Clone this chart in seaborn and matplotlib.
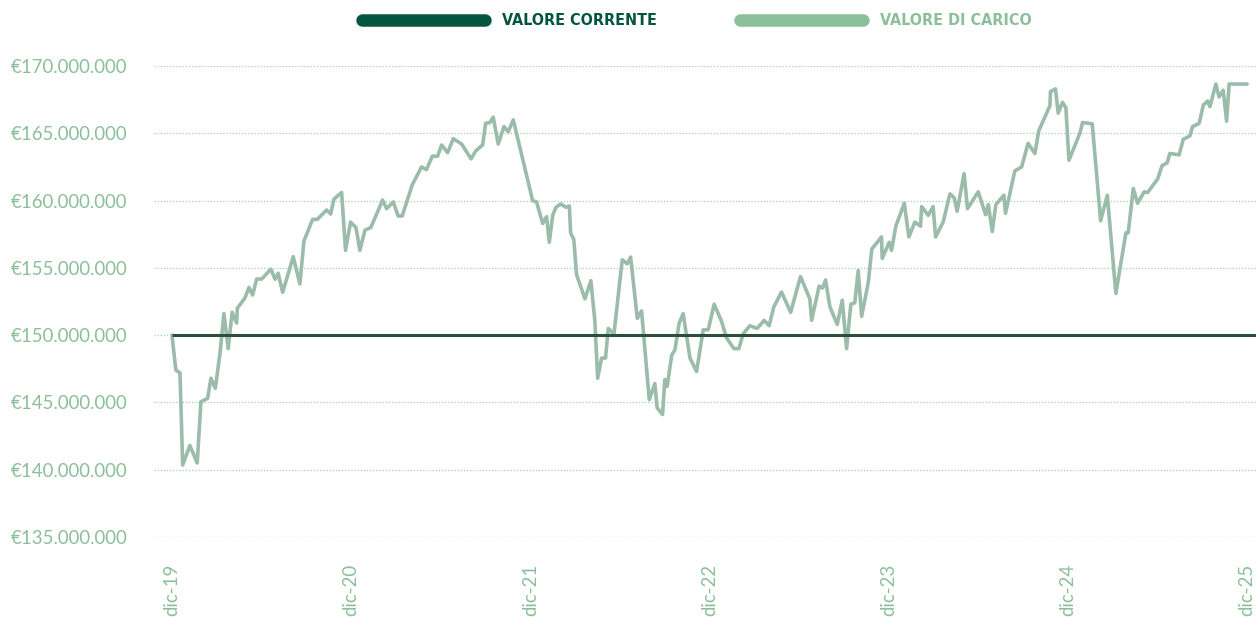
import matplotlib
matplotlib.use("Agg")
import matplotlib.pyplot as plt
from matplotlib.lines import Line2D
from matplotlib.ticker import FuncFormatter
import pandas as pd
import seaborn as sns

# anni trascorsi da dic-19 e valore di carico (milioni di euro)
anni = [0.000, 0.022, 0.045, 0.060, 0.100, 0.141, 0.162, 0.199, 0.218, 0.242,
        0.268, 0.290, 0.314, 0.336, 0.361, 0.365, 0.407, 0.430, 0.450, 0.473,
        0.501, 0.552, 0.576, 0.593, 0.618, 0.677, 0.714, 0.737, 0.785, 0.811,
        0.863, 0.886, 0.904, 0.947, 0.969, 0.997, 1.027, 1.049, 1.077, 1.110,
        1.176, 1.198, 1.235, 1.263, 1.285, 1.341, 1.393, 1.421, 1.453, 1.483,
        1.505, 1.539, 1.570, 1.617, 1.669, 1.696, 1.734, 1.751, 1.775, 1.793,
        1.821, 1.853, 1.877, 1.905, 2.013, 2.035, 2.069, 2.091, 2.106, 2.125,
        2.143, 2.170, 2.199, 2.218, 2.225, 2.243, 2.258, 2.305, 2.338, 2.360,
        2.376, 2.398, 2.420, 2.435, 2.467, 2.513, 2.541, 2.560, 2.597, 2.621,
        2.664, 2.695, 2.708, 2.738, 2.751, 2.764, 2.789, 2.807, 2.831, 2.853,
        2.891, 2.928, 2.965, 2.993, 3.026, 3.068, 3.095, 3.136, 3.164, 3.188,
        3.225, 3.266, 3.305, 3.333, 3.359, 3.402, 3.453, 3.508, 3.560, 3.570,
        3.612, 3.631, 3.648, 3.672, 3.713, 3.741, 3.765, 3.789, 3.811, 3.830,
        3.849, 3.886, 3.906, 3.960, 3.964, 4.003, 4.016, 4.040, 4.087, 4.113,
        4.146, 4.178, 4.184, 4.221, 4.248, 4.262, 4.304, 4.342, 4.366, 4.382,
        4.421, 4.440, 4.500, 4.541, 4.556, 4.578, 4.598, 4.643, 4.652, 4.704,
        4.742, 4.778, 4.816, 4.838, 4.900, 4.903, 4.931, 4.946, 4.970, 4.989,
        5.006, 5.067, 5.082, 5.136, 5.183, 5.220, 5.268, 5.324, 5.337, 5.365,
        5.389, 5.426, 5.445, 5.501, 5.526, 5.554, 5.569, 5.621, 5.644, 5.681,
        5.696, 5.733, 5.756, 5.780, 5.793, 5.826, 5.844, 5.867, 5.886, 5.900,
        6.000]
valore_carico = [150.0, 147.4, 147.2, 140.35, 141.8, 140.5, 145.05, 145.3, 146.8, 146.05,
                 148.6, 151.6, 149.0, 151.7, 150.9, 152.0, 152.75, 153.55, 152.98, 154.17,
                 154.17, 154.9, 154.15, 154.6, 153.18, 155.83, 153.8, 157.0, 158.6, 158.6,
                 159.3, 159.0, 160.1, 160.6, 156.3, 158.4, 158.0, 156.3, 157.8, 158.0,
                 160.04, 159.4, 159.9, 158.85, 158.85, 161.16, 162.5, 162.3, 163.3, 163.3,
                 164.13, 163.56, 164.6, 164.2, 163.1, 163.7, 164.13, 165.74, 165.8, 166.2,
                 164.2, 165.5, 165.1, 166.0, 160.0, 159.9, 158.3, 158.8, 156.9, 158.9,
                 159.5, 159.75, 159.5, 159.6, 157.6, 157.1, 154.5, 152.7, 154.05, 151.1,
                 146.8, 148.3, 148.3, 150.5, 150.1, 155.6, 155.3, 155.8, 151.25, 151.8,
                 145.2, 146.4, 144.6, 144.1, 146.7, 146.2, 148.5, 148.9, 150.9, 151.6,
                 148.3, 147.3, 150.4, 150.4, 152.3, 151.0, 149.8, 149.0, 149.0, 150.1,
                 150.7, 150.5, 151.1, 150.7, 152.1, 153.2, 151.7, 154.35, 152.7, 151.1,
                 153.65, 153.5, 154.1, 152.1, 150.8, 152.6, 149.0, 152.3, 152.4, 154.8,
                 151.4, 153.9, 156.4, 157.3, 155.7, 156.9, 156.3, 158.1, 159.8, 157.3,
                 158.4, 158.1, 159.55, 158.9, 159.55, 157.3, 158.4, 160.5, 160.2, 159.2,
                 162.0, 159.4, 160.65, 158.95, 159.7, 157.7, 159.7, 160.4, 159.05, 162.2,
                 162.5, 164.25, 163.5, 165.2, 167.05, 168.1, 168.3, 166.5, 167.3, 166.9,
                 163.0, 165.0, 165.8, 165.7, 158.5, 160.4, 153.1, 157.6, 157.6, 160.9,
                 159.8, 160.65, 160.6, 161.6, 162.6, 162.8, 163.5, 163.4, 164.55, 164.8,
                 165.5, 165.74, 167.1, 167.4, 166.98, 168.66, 167.7, 168.2, 165.9, 168.66,
                 168.66]
valore_corrente = 150.0

tick_anni = [0, 1, 2, 3, 4, 5, 6]
tick_labels = ["dic-19", "dic-20", "dic-21", "dic-22", "dic-23", "dic-24", "dic-25"]
y_ticks = [135, 140, 145, 150, 155, 160, 165, 170]

verde_scuro = "#03553f"
verde_linea_scura = "#2b4f3b"
verde_chiaro = "#8bbf9a"
verde_linea = "#9bbcaa"

sns.set_style("white")
plt.rcParams["font.family"] = ["Lato", "DejaVu Sans"]

df = pd.DataFrame({"anno": anni, "valore": [v * 1e6 for v in valore_carico]})

fig = plt.figure(figsize=(12.56, 6.17), dpi=100)
ax = fig.add_axes([154 / 1256, 1 - 537 / 617, 1 - 154 / 1256, (537 - 66) / 617])

sns.lineplot(data=df, x="anno", y="valore", color=verde_linea, linewidth=2.6,
             ax=ax, clip_on=False)
ax.hlines(valore_corrente * 1e6, anni[0], 6.05, color=verde_linea_scura,
          linewidth=2.2, zorder=5, clip_on=False)

ax.set_xlim(-0.1, 6.05)
ax.set_ylim(135e6, 170e6)
ax.set_yticks([v * 1e6 for v in y_ticks])
ax.yaxis.set_major_formatter(FuncFormatter(lambda v, p: "€{:,.0f}".format(v).replace(",", ".")))
ax.set_xticks(tick_anni)
ax.set_xticklabels(tick_labels, rotation=90, va="top", ha="center")
ax.tick_params(axis="y", length=0, pad=19, labelsize=13.4, labelcolor=verde_chiaro)
ax.tick_params(axis="x", length=0, pad=19, labelsize=13.4, labelcolor=verde_chiaro)
ax.grid(axis="y", color="#a9cdb5", linestyle=(0, (1, 1.5)), linewidth=0.9)
ax.grid(axis="x", visible=False)
for s in ax.spines.values():
    s.set_visible(False)
ax.set_xlabel("")
ax.set_ylabel("")

handles = [Line2D([], [], color=verde_scuro, linewidth=9, solid_capstyle="round"),
           Line2D([], [], color=verde_chiaro, linewidth=9, solid_capstyle="round")]
leg = fig.legend(handles, ["VALORE CORRENTE", "VALORE DI CARICO"], loc="center",
                 bbox_to_anchor=(0.555, 0.966), ncol=2, frameon=False,
                 handlelength=7.7, handletextpad=1.05, columnspacing=5.2,
                 prop={"family": "DejaVu Sans", "stretch": "condensed",
                       "weight": "bold", "size": 11.5})
for t, c in zip(leg.get_texts(), [verde_scuro, verde_chiaro]):
    t.set_color(c)

fig.savefig("out.png", dpi=100)
